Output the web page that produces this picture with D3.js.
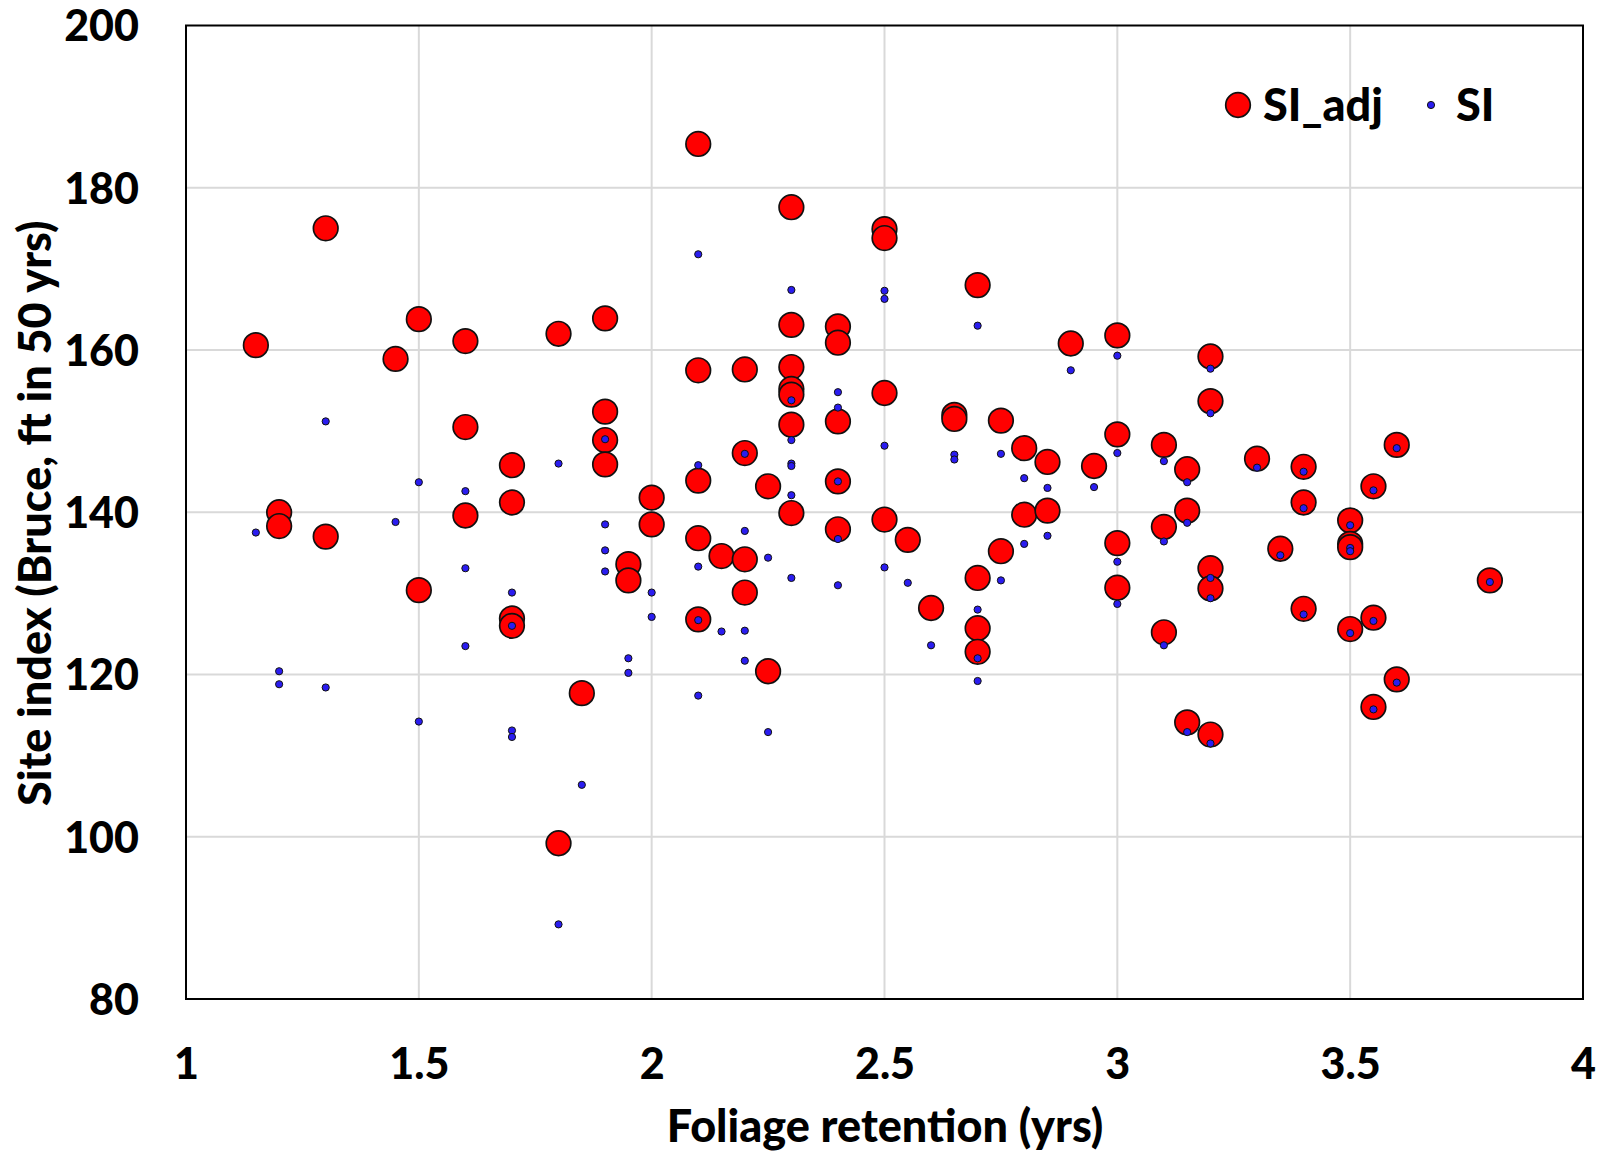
<!DOCTYPE html>
<html>
<head>
<meta charset="utf-8">
<script src="https://cdn.jsdelivr.net/npm/d3@7/dist/d3.min.js"></script>
<style>
  html, body { margin: 0; padding: 0; background: #fff; }
  svg text { font-family: Lato, "Open Sans", sans-serif; font-weight: 900; fill: #000; }
</style>
</head>
<body>
<svg id="chart" width="1610" height="1153"></svg>
<script>
// Foliage retention (yrs) for each observation
const foliage = [
  1.15, 1.2, 1.2, 1.3, 1.3, 1.45, 1.5, 1.5, 1.6, 1.6, 1.6,
  1.7, 1.7, 1.7, 1.7, 1.8, 1.8, 1.85, 1.9, 1.9, 1.9, 1.9,
  1.95, 1.95, 2.0, 2.0, 2.1, 2.1, 2.1, 2.1, 2.1, 2.15,
  2.2, 2.2, 2.2, 2.2, 2.25, 2.25,
  2.3, 2.3, 2.3, 2.3, 2.3, 2.3, 2.3,
  2.4, 2.4, 2.4, 2.4, 2.4, 2.5, 2.5, 2.5, 2.5, 2.55, 2.6, 2.65, 2.65,
  2.7, 2.7, 2.7, 2.7, 2.75, 2.75, 2.8, 2.8, 2.85, 2.85, 2.9, 2.95,
  3.0, 3.0, 3.0, 3.0, 3.1, 3.1, 3.1, 3.15, 3.15, 3.15,
  3.2, 3.2, 3.2, 3.2, 3.2, 3.3, 3.35, 3.4, 3.4, 3.4,
  3.5, 3.5, 3.5, 3.5, 3.55, 3.55, 3.55, 3.6, 3.6, 3.8
];
// Adjusted site index
const siAdj = [
  160.6, 140.0, 138.3, 175.0, 137.0, 158.9, 163.8, 130.4, 161.1, 150.5, 139.6,
  145.8, 141.2, 126.9, 126.0, 162.0, 99.2, 117.7, 163.9, 152.4, 148.9, 145.9,
  133.6, 131.6, 141.8, 138.5, 185.4, 157.5, 143.9, 136.8, 126.8, 134.6,
  157.6, 147.3, 134.2, 130.1, 143.2, 120.4,
  177.6, 163.1, 157.9, 155.2, 154.5, 150.8, 139.9,
  162.9, 160.9, 151.2, 143.8, 137.9, 174.9, 173.8, 154.7, 139.1, 136.6, 128.2, 152.0, 151.5,
  168.0, 131.9, 125.7, 122.8, 151.3, 135.2, 147.9, 139.7, 146.2, 140.2, 160.8, 145.7,
  161.8, 149.6, 136.2, 130.7, 148.3, 138.2, 125.2, 145.3, 140.2, 114.1,
  159.2, 153.7, 133.1, 130.6, 112.6, 146.6, 135.5, 145.6, 141.2, 128.1,
  139.0, 136.1, 135.7, 125.6, 143.2, 127.0, 116.0, 148.3, 119.4, 131.6
];
// Unadjusted site index
const si = [
  137.5, 120.4, 118.8, 151.2, 118.4, 138.8, 143.7, 114.2, 142.6, 133.1, 123.5,
  130.1, 126.0, 113.1, 112.3, 146.0, 89.2, 106.4, 149.0, 138.5, 135.3, 132.7,
  122.0, 120.2, 130.1, 127.1, 171.8, 145.8, 133.3, 126.7, 117.4, 125.3,
  147.2, 137.7, 125.4, 121.7, 134.4, 112.9,
  167.4, 153.8, 148.9, 146.0, 145.7, 142.1, 131.9,
  154.8, 152.9, 143.8, 136.7, 131.0, 167.3, 166.3, 148.2, 133.2, 131.3, 123.6, 147.1, 146.5,
  163.0, 128.0, 122.0, 119.2, 147.2, 131.6, 144.2, 136.1, 143.0, 137.1, 157.5, 143.1,
  159.3, 147.3, 133.9, 128.7, 146.3, 136.4, 123.6, 143.7, 138.7, 112.9,
  157.7, 152.2, 131.9, 129.4, 111.5, 145.5, 134.7, 145.0, 140.5, 127.4,
  138.4, 135.6, 135.2, 125.1, 142.7, 126.6, 115.7, 147.9, 119.0, 131.4
];
const xTicks = [1, 1.5, 2, 2.5, 3, 3.5, 4];
const yTicks = [80, 100, 120, 140, 160, 180, 200];
const seriesNames = ["SI_adj", "SI"];
const xTitle = "Foliage retention (yrs)";
const yTitle = "Site index (Bruce, ft in 50 yrs)";

const svg = d3.select("#chart");
const L = 186, R = 1583, T = 25.5, B = 999;
const x = d3.scaleLinear().domain([1, 4]).range([L, R]);
const y = d3.scaleLinear().domain([80, 200]).range([B, T]);
const FONT = "Lato, 'Open Sans', sans-serif";

// gridlines
const grid = svg.append("g");
grid.selectAll("line.v").data(xTicks.slice(1, -1)).enter().append("line")
  .attr("x1", d => x(d)).attr("x2", d => x(d)).attr("y1", T).attr("y2", B)
  .attr("stroke", "#d9d9d9").attr("stroke-width", 2);
grid.selectAll("line.h").data(yTicks.slice(1, -1)).enter().append("line")
  .attr("y1", d => y(d)).attr("y2", d => y(d)).attr("x1", L).attr("x2", R)
  .attr("stroke", "#d9d9d9").attr("stroke-width", 2);

// axes (labels only)
const xAxis = d3.axisBottom(x).tickValues(xTicks).tickSize(0).tickPadding(0).tickFormat(d3.format("~g"));
const gx = svg.append("g").attr("transform", `translate(0,${B})`).call(xAxis);
gx.select(".domain").remove();
gx.selectAll("text").attr("dy", null).attr("y", 80).style("font-size", "43px")
  .style("font-family", FONT).style("font-weight", "900");

const yAxis = d3.axisLeft(y).tickValues(yTicks).tickSize(0).tickPadding(0);
const gy = svg.append("g").attr("transform", `translate(${L},0)`).call(yAxis);
gy.select(".domain").remove();
gy.selectAll("text").attr("x", -47).attr("dy", "0.36em").style("font-size", "43px")
  .style("font-family", FONT).style("font-weight", "900");

// plot border
svg.append("rect").attr("x", L).attr("y", T).attr("width", R - L).attr("height", B - T)
  .attr("fill", "none").attr("stroke", "#000").attr("stroke-width", 2);

const data = foliage.map((f, i) => ({ f, adj: siAdj[i], si: si[i] }));

// SI_adj
svg.append("g").selectAll("circle").data(data).enter().append("circle")
  .attr("cx", d => x(d.f)).attr("cy", d => y(d.adj)).attr("r", 12.3)
  .attr("fill", "#ff0000").attr("stroke", "#111").attr("stroke-width", 1.7);
// SI
svg.append("g").selectAll("circle").data(data).enter().append("circle")
  .attr("cx", d => x(d.f)).attr("cy", d => y(d.si)).attr("r", 3.6)
  .attr("fill", "#2a1cf0").attr("stroke", "#111").attr("stroke-width", 1);

// legend
const lg = svg.append("g");
lg.append("circle").attr("cx", 1238).attr("cy", 105).attr("r", 12.3)
  .attr("fill", "#ff0000").attr("stroke", "#111").attr("stroke-width", 1.7);
lg.append("text").attr("x", 1263).attr("y", 105).attr("dy", "0.36em").style("font-size", "45px").text(seriesNames[0]);
lg.append("circle").attr("cx", 1431).attr("cy", 105).attr("r", 3.6)
  .attr("fill", "#2a1cf0").attr("stroke", "#111").attr("stroke-width", 1);
lg.append("text").attr("x", 1456).attr("y", 105).attr("dy", "0.36em").style("font-size", "45px").text(seriesNames[1]);

// titles
svg.append("text").attr("x", 885).attr("y", 1142).attr("text-anchor", "middle")
  .style("font-size", "45px").text(xTitle);
svg.append("text").attr("transform", `translate(51,${(T + B) / 2 + 1}) rotate(-90)`)
  .attr("text-anchor", "middle").style("font-size", "45px").text(yTitle);
</script>
</body>
</html>
